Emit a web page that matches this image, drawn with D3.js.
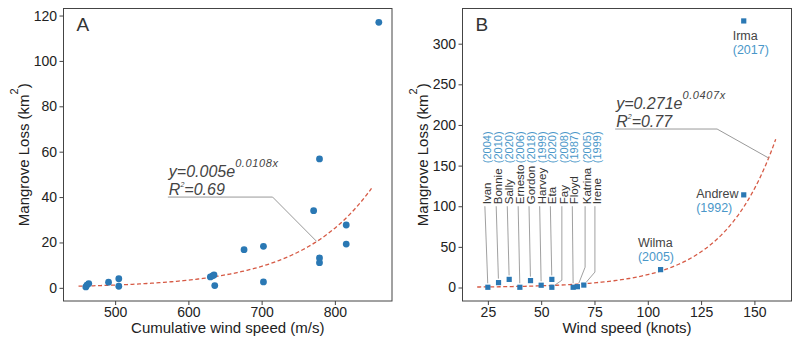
<!DOCTYPE html>
<html>
<head>
<meta charset="utf-8">
<script src="https://cdn.jsdelivr.net/npm/d3@7"></script>
<style>
  body { margin: 0; background: #fff; }
  svg { font-family: 'Liberation Sans', Arial, sans-serif; }
  .tick text { font-size: 14px; fill: #222; }
  .tick line { stroke: #444; }
</style>
</head>
<body>
<div id="chart"></div>
<script>
// panel A: cumulative wind speed (m/s) vs mangrove loss (km2)
var windA = [460, 461.5, 464, 491, 505, 505, 630, 633, 635, 636, 676, 702.5, 702.5, 771, 779, 779, 779, 815.5, 815.5, 860]
var lossA = [0.4, 1.2, 1.9, 2.5, 4.0, 0.7, 4.8, 5.3, 5.7, 1.0, 16.8, 18.3, 2.6, 34, 56.8, 13.2, 11.1, 27.7, 19.3, 117]

// panel B: max wind speed (knots) per storm
var names = ['Ivan', 'Bonnie', 'Sally', 'Ernesto', 'Gordon', 'Harvey', 'Eta', 'Fay', 'Floyd', 'Katrina', 'Irene', 'Wilma', 'Andrew', 'Irma']
var years = [2004, 2010, 2020, 2006, 2018, 1999, 2020, 2008, 1987, 2005, 1999, 2005, 1992, 2017]
var windB = [25, 30, 35, 40, 45, 50, 55, 55, 65, 67, 70, 106, 145, 145]
var lossB = [0.3, 6, 10, 0.3, 8.5, 2.8, 10, 0.3, 0.3, 1, 3, 22, 114, 328]

var xTicksA = [500, 600, 700, 800]
var yTicksA = [0, 20, 40, 60, 80, 100, 120]
var xTicksB = [25, 50, 75, 100, 125, 150]
var yTicksB = [0, 50, 100, 150, 200, 250, 300]

// exponential fits y = a * e^(b x); A drawn with the curve as plotted
var fitA = {a: 0.0074, b: 0.01022, from: 450, to: 850, label: ['0.005', '0.0108'], r2: '0.69'}
var fitB = {a: 0.271, b: 0.0407, from: 20, to: 160, label: ['0.271', '0.0407'], r2: '0.77'}

// repelled label columns for the small storms (knots), and segment bends (km2)
var repelX = [23.6, 28.9, 34.1, 39.2, 44.3, 49.3, 54.3, 59.7, 64.6, 70.6, 75.2]
var repelBend = [null, null, null, null, null, null, null, 9, null, 25, 19]

var width = 800
var height = 344
var blue = '#2a78b4'
var yearBlue = '#4a97c9'
var red = '#d65a45'

var svg = d3.select('#chart').append('svg')
  .attr('width', width)
  .attr('height', height)

function panel (opt) {
  var x = d3.scaleLinear().domain(opt.xDomain).range([opt.left, opt.right])
  var y = d3.scaleLinear().domain(opt.yDomain).range([opt.bottom, opt.top])
  var g = svg.append('g')

  g.append('g')
    .attr('transform', 'translate(0,' + opt.bottom + ')')
    .call(d3.axisBottom(x).tickValues(opt.xTicks).tickSize(4).tickPadding(2))
    .call(function (a) { a.select('.domain').remove() })

  g.append('g')
    .attr('transform', 'translate(' + opt.left + ',0)')
    .call(d3.axisLeft(y).tickValues(opt.yTicks).tickSize(4).tickPadding(2.5))
    .call(function (a) { a.select('.domain').remove() })

  g.append('rect')
    .attr('x', opt.left)
    .attr('y', opt.top)
    .attr('width', opt.right - opt.left)
    .attr('height', opt.bottom - opt.top)
    .attr('fill', 'none')
    .attr('stroke', '#444')
    .attr('stroke-width', 1)

  g.append('text')
    .attr('x', (opt.left + opt.right) / 2)
    .attr('y', 333)
    .attr('text-anchor', 'middle')
    .attr('font-size', 15)
    .attr('fill', '#222')
    .text(opt.xTitle)

  var yt = g.append('text')
    .attr('transform', 'translate(' + (opt.left - 35) + ',' + ((opt.top + opt.bottom) / 2) + ') rotate(-90)')
    .attr('text-anchor', 'middle')
    .attr('font-size', 15)
    .attr('fill', '#222')
  yt.append('tspan').text('Mangrove Loss (km')
  yt.append('tspan').attr('font-size', 11).attr('dy', -11).text('2')
  yt.append('tspan').attr('dy', 11).text(')')

  g.append('text')
    .attr('x', opt.left + 13)
    .attr('y', 31)
    .attr('font-size', 19)
    .attr('fill', '#333')
    .text(opt.letter)

  // fitted curve
  var fit = opt.fit
  var xs = d3.range(fit.from, fit.to + 0.001, (fit.to - fit.from) / 120)
  g.append('path')
    .attr('d', d3.line()
      .x(function (d) { return x(d) })
      .y(function (d) { return y(fit.a * Math.exp(fit.b * d)) })(xs))
    .attr('fill', 'none')
    .attr('stroke', red)
    .attr('stroke-width', 1.3)
    .attr('stroke-dasharray', '4,2.5')

  // equation label with leader
  var L = opt.leader
  g.append('path')
    .attr('d', d3.line()([[x(L[0]), y(L[1])], [x(L[2]), y(L[1])], [x(L[3]), y(L[4])]]))
    .attr('fill', 'none')
    .attr('stroke', '#999')
    .attr('stroke-width', 1)

  var eq = g.append('text')
    .attr('x', x(L[0]) + 1)
    .attr('y', y(L[1]) - 20)
    .attr('font-size', 16)
    .attr('font-style', 'italic')
    .attr('fill', '#444')
  eq.append('tspan').text('y=' + fit.label[0] + 'e')
  eq.append('tspan').attr('font-size', 11).attr('dy', -10).attr('letter-spacing', 0.6).text(fit.label[1] + 'x')

  var r2 = g.append('text')
    .attr('x', x(L[0]) + 1)
    .attr('y', y(L[1]) - 2)
    .attr('font-size', 16)
    .attr('font-style', 'italic')
    .attr('fill', '#444')
  r2.append('tspan').text('R')
  r2.append('tspan').attr('font-size', 7).attr('dy', -8).text('2')
  r2.append('tspan').attr('dy', 8).text('=' + fit.r2)

  return {g: g, x: x, y: y}
}

// ---- panel A
var pA = panel({
  left: 63.5, right: 392, top: 8.5, bottom: 301,
  xDomain: [429.5, 878], yDomain: [-5.8, 123.1],
  xTicks: xTicksA, yTicks: yTicksA,
  xTitle: 'Cumulative wind speed (m/s)', letter: 'A',
  fit: fitA, leader: [572, 40, 715, 775, 20.5]
})

pA.g.selectAll('circle.pt')
  .data(windA)
  .enter().append('circle')
  .attr('class', 'pt')
  .attr('cx', function (d) { return pA.x(d) })
  .attr('cy', function (d, i) { return pA.y(lossA[i]) })
  .attr('r', 3.4)
  .attr('fill', blue)

// ---- panel B
var pB = panel({
  left: 462.5, right: 791.5, top: 8.5, bottom: 301,
  xDomain: [13.1, 167.4], yDomain: [-16.6, 343.3],
  xTicks: xTicksB, yTicks: yTicksB,
  xTitle: 'Wind speed (knots)', letter: 'B',
  fit: fitB, leader: [84.7, 195, 132.5, 156.7, 159.3]
})

var x = pB.x
var y = pB.y

// leader segments for the repelled labels
for (var i = 0; i < repelX.length; i++) {
  var px = x(windB[i])
  var py = y(lossB[i])
  var lx = x(repelX[i])
  var pts = [[lx, y(100)]]
  if (repelBend[i] !== null) pts.push([lx, y(repelBend[i])])
  var last = pts[pts.length - 1]
  var dx = px - last[0]
  var dy = py - last[1]
  var len = Math.sqrt(dx * dx + dy * dy)
  pts.push([px - dx / len * 4, py - dy / len * 4])
  pB.g.append('path')
    .attr('d', d3.line()(pts))
    .attr('fill', 'none')
    .attr('stroke', '#888')
    .attr('stroke-width', 0.8)

  pB.g.append('text')
    .attr('transform', 'translate(' + (lx + 6) + ',' + (y(100) - 2) + ') rotate(-90)')
    .attr('font-size', 11.5)
    .attr('fill', '#333')
    .text(names[i])

  pB.g.append('text')
    .attr('transform', 'translate(' + (lx + 6) + ',' + y(153) + ') rotate(-90)')
    .attr('font-size', 11)
    .attr('fill', yearBlue)
    .text('(' + years[i] + ')')
}

// labels for the three big storms, offset in px from their point
var bigLabel = {Wilma: [-22.7, -22.3], Andrew: [-47.6, 3], Irma: [-11, 19]}
names.forEach(function (n, i) {
  if (!bigLabel[n]) return
  var o = bigLabel[n]
  var t = pB.g.append('text')
    .attr('x', x(windB[i]) + o[0])
    .attr('y', y(lossB[i]) + o[1])
    .attr('font-size', 12.5)
  t.append('tspan').attr('fill', '#444').text(n)
  t.append('tspan').attr('fill', yearBlue)
    .attr('x', x(windB[i]) + o[0]).attr('dy', 13.7)
    .text('(' + years[i] + ')')
})

pB.g.selectAll('rect.pt')
  .data(windB)
  .enter().append('rect')
  .attr('class', 'pt')
  .attr('x', function (d) { return x(d) - 2.6 })
  .attr('y', function (d, i) { return y(lossB[i]) - 2.6 })
  .attr('width', 5.2)
  .attr('height', 5.2)
  .attr('fill', blue)
</script>
</body>
</html>
